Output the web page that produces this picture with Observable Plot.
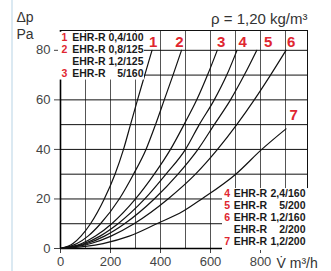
<!DOCTYPE html>
<html><head><meta charset="utf-8">
<script src="https://cdn.jsdelivr.net/npm/d3@7"></script>
<script src="https://cdn.jsdelivr.net/npm/@observablehq/plot@0.6"></script>
<style>body{margin:0;background:#fff}</style>
</head><body><div id="chart"></div>
<script>
// Pressure levels (Pa) at which flow (m³/h) was read for curves 1–6
const pressureLevels = [0, 2, 5, 10, 20, 30, 40, 50, 60, 70, 80];
const flow1 = [0, 50, 82, 120, 175, 218, 252, 280, 308, 337, 366];
const flow2 = [0, 66, 110, 160, 235, 292, 342, 380, 415, 450, 484];
const flow3 = [0, 85, 140, 205, 300, 375, 440, 494, 545, 588, 627];
const flow4 = [0, 95, 158, 230, 337, 422, 500, 555, 615, 665, 706];
const flow5 = [0, 106, 176, 256, 375, 470, 550, 615, 680, 735, 785];
const flow6 = [0, 122, 202, 294, 430, 540, 628, 705, 775, 840, 902];
// Curve 7 ends before 80 Pa
const pressure7 = [0, 2, 5, 10, 15, 20, 30, 40, 48.3];
const flow7 = [0, 170, 275, 385, 490, 565, 701, 805, 902];

const curveNames = ["1", "2", "3", "4", "5", "6", "7"];
const labelFlow = [371, 476, 643, 729, 831, 923, 933];
const labelPressure = [83.3, 83.3, 83.3, 83.3, 83.3, 83.3, 53.7];

const legendTopNums = ["1", "2", "", "3"];
const legendTopTypes = ["EHR-R", "EHR-R", "EHR-R", "EHR-R"];
const legendTopSizes = ["0,4/100", "0,8/125", "1,2/125", "5/160"];
const legendBotNums = ["4", "5", "6", "", "7"];
const legendBotTypes = ["EHR-R", "EHR-R", "EHR-R", "EHR-R", "EHR-R"];
const legendBotSizes = ["2,4/160", "5/200", "1,2/160", "2/200", "1,2/200"];

const xTicks = [0, 200, 400, 600, 800];
const yTicks = [0, 20, 40, 60, 80];
const xGrid = [100, 200, 300, 400, 500, 600, 700, 800, 900];
const yGrid = [10, 20, 30, 40, 50, 60, 70, 80];

const titleText = "ρ = 1,20 kg/m³";
const yLabel1 = "Δp";
const yLabel2 = "Pa";
const xLabel = "V̇ m³/h";

// ---- build tables
const flows = [flow1, flow2, flow3, flow4, flow5, flow6];
const curveRows = [];
flows.forEach((f, k) => pressureLevels.forEach((p, i) => curveRows.push({curve: curveNames[k], V: f[i], p})));
pressure7.forEach((p, i) => curveRows.push({curve: "7", V: flow7[i], p}));
const curveLabels = curveNames.map((n, i) => ({n, V: labelFlow[i], p: labelPressure[i]}));

// legend layout (in data units)
const topRowY = i => 85.3 - i * 4.85;
const botRowY = i => 22.1 - i * 4.85;
const legTop = legendTopNums.map((n, i) => ({n, t: legendTopTypes[i], s: legendTopSizes[i], p: topRowY(i)}));
const legBot = legendBotNums.map((n, i) => ({n, t: legendBotTypes[i], s: legendBotSizes[i], p: botRowY(i)}));

const red = "#e0262f";
const dark = "#1a1a1a";
const ff = "'Liberation Sans', Arial, Helvetica, sans-serif";
const legFont = {fontSize: 10.5, fontWeight: "bold", fill: dark, fontFamily: ff};

const chart = Plot.plot({
  width: 331,
  height: 271,
  marginLeft: 60,
  marginRight: 24,
  marginTop: 30,
  marginBottom: 23,
  style: {fontFamily: ff, fontSize: "13px", color: "#444", background: "#fff", overflow: "visible"},
  x: {domain: [0, 988], ticks: xTicks, tickSize: 5, tickPadding: 3, label: null},
  y: {domain: [0, 88], ticks: yTicks, tickSize: 6, tickPadding: 4, label: null},
  marks: [
    Plot.ruleX(xGrid, {stroke: "#555", strokeWidth: 1}),
    Plot.ruleY(yGrid, {stroke: "#111", strokeWidth: 1}),
    Plot.frame({stroke: "#111", strokeWidth: 1}),
    Plot.ruleX([0], {stroke: "#000", strokeWidth: 1.6}),
    Plot.ruleY([0], {stroke: "#000", strokeWidth: 1.6}),
    Plot.line(curveRows, {x: "V", y: "p", z: "curve", curve: "monotone-x", stroke: "#111", strokeWidth: 1.2}),
    // legend boxes
    Plot.rect([{x1: -8, x2: 336, y1: 68, y2: 87.3}], {x1: "x1", x2: "x2", y1: "y1", y2: "y2", fill: "#fff"}),
    Plot.rect([{x1: 648, x2: 1010, y1: -0.8, y2: 24.2}], {x1: "x1", x2: "x2", y1: "y1", y2: "y2", fill: "#fff"}),
    Plot.text(legTop, {x: 16, y: "p", text: "n", fill: red, fontSize: 10.5, fontWeight: "bold", fontFamily: ff}),
    Plot.text(legTop, {x: 47, y: "p", text: "t", textAnchor: "start", ...legFont}),
    Plot.text(legTop, {x: 332, y: "p", text: "s", textAnchor: "end", ...legFont}),
    Plot.text(legBot, {x: 667, y: "p", text: "n", fill: red, fontSize: 10.5, fontWeight: "bold", fontFamily: ff}),
    Plot.text(legBot, {x: 693, y: "p", text: "t", textAnchor: "start", ...legFont}),
    Plot.text(legBot, {x: 980, y: "p", text: "s", textAnchor: "end", ...legFont}),
    // curve numbers
    Plot.text(curveLabels, {x: "V", y: "p", text: "n", fill: red, fontSize: 15, fontWeight: "bold", fontFamily: ff}),
    // outer texts
    Plot.text([titleText], {frameAnchor: "top-right", dy: -11, lineAnchor: "middle", textAnchor: "end", fontSize: 15, fill: "#333"}),
    Plot.text([yLabel1], {frameAnchor: "top-left", dx: -44, dy: -13, lineAnchor: "middle", textAnchor: "start", fontSize: 14, fill: "#333"}),
    Plot.text([yLabel2], {frameAnchor: "top-left", dx: -44, dy: 4, lineAnchor: "middle", textAnchor: "start", fontSize: 14, fill: "#333"}),
    Plot.text([xLabel], {frameAnchor: "bottom-right", dx: -31, dy: 15, lineAnchor: "middle", textAnchor: "start", fontSize: 14, fill: "#333"})
  ]
});

d3.select(chart).append("line")
  .attr("x1", 12).attr("x2", 12).attr("y1", 0).attr("y2", 271)
  .attr("stroke", "#cfe2ee").attr("stroke-width", 1.5);

document.getElementById("chart").appendChild(chart);
</script>
</body></html>
